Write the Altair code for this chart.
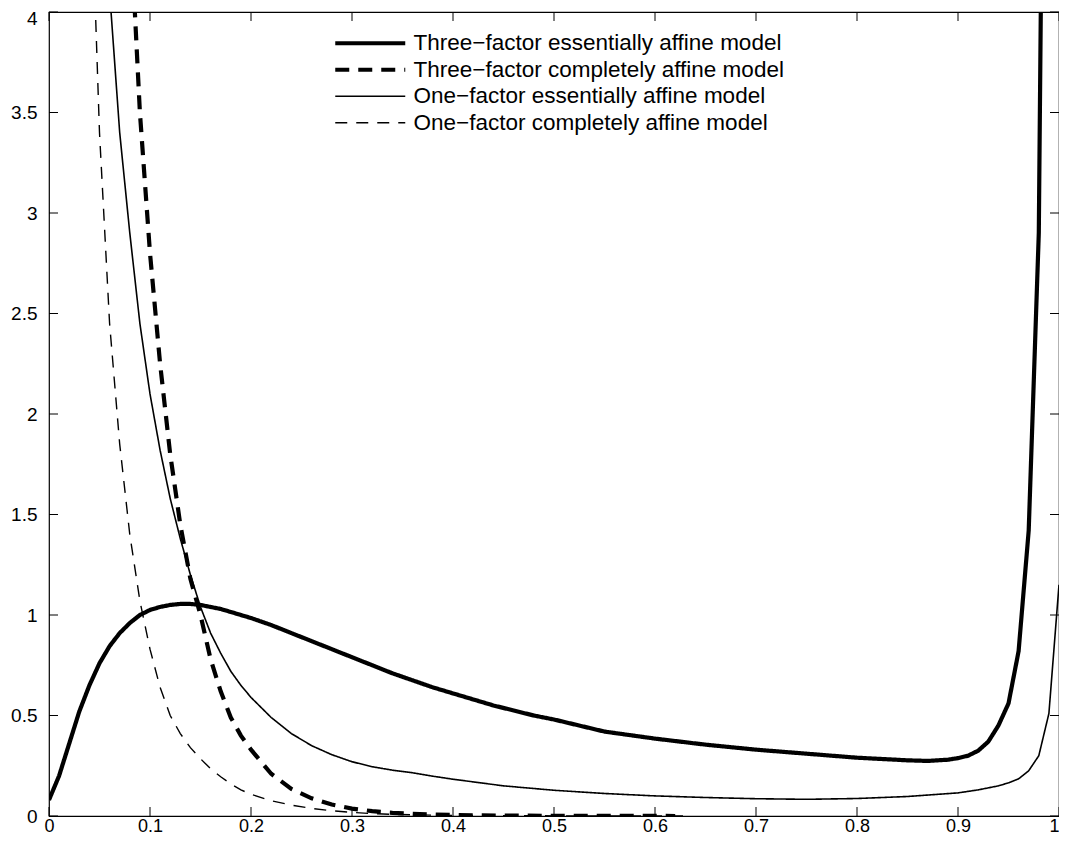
import altair as alt
import pandas as pd

names = [
    "Three\u2212factor essentially affine model",
    "Three\u2212factor completely affine model",
    "One\u2212factor essentially affine model",
    "One\u2212factor completely affine model",
]

# Three-factor essentially affine (thick solid)
x_3ea = [0, .01, .02, .03, .04, .05, .06, .07, .08, .09, .10, .11, .12, .13, .14, .15, .16, .17, .18, .19,
         .20, .22, .24, .26, .28, .30, .32, .34, .36, .38, .40, .42, .44, .46, .48, .50, .55, .60, .65, .70,
         .75, .80, .85, .87, .89, .90, .91, .92, .93, .94, .95, .96, .97, .98, .99]
y_3ea = [.08, .20, .36, .52, .65, .76, .845, .91, .96, 1.0, 1.025, 1.04, 1.05, 1.055, 1.055, 1.05, 1.04, 1.03, 1.015, 1.0,
         .985, .95, .91, .87, .83, .79, .75, .71, .675, .64, .61, .58, .55, .525, .50, .48, .42, .385, .355, .33,
         .31, .29, .277, .274, .28, .288, .30, .325, .37, .45, .56, .82, 1.42, 2.9, 8.5]

# Three-factor completely affine (thick dashed)
x_3ca = [.08, .09, .10, .11, .12, .13, .14, .15, .16, .17, .18, .19, .20, .22, .24, .26, .28, .30, .32, .34,
         .36, .38, .40, .45, .50, .55, .60, .62]
y_3ca = [4.5, 3.5, 2.8, 2.25, 1.8, 1.45, 1.18, 1.0, .78, .62, .49, .40, .33, .21, .135, .088, .057, .037, .024, .016,
         .011, .007, .005, .002, .001, .0005, .0002, .0001]

# One-factor essentially affine (thin solid)
x_1ea = [.05, .06, .07, .08, .09, .10, .11, .12, .13, .14, .15, .16, .17, .18, .19, .20, .22, .24, .26, .28,
         .30, .32, .34, .36, .38, .40, .45, .50, .55, .60, .65, .70, .75, .80, .85, .90, .92, .94, .95, .96,
         .97, .98, .99, 1.0]
y_1ea = [5.2, 4.1, 3.4, 2.9, 2.45, 2.1, 1.82, 1.58, 1.38, 1.2, 1.04, .91, .81, .72, .65, .59, .49, .41, .35, .305,
         .27, .245, .228, .215, .198, .183, .15, .128, .112, .10, .092, .086, .083, .087, .097, .115, .13, .15, .165, .185,
         .225, .30, .51, 1.15]

# One-factor completely affine (thin dashed)
x_1ca = [.04, .05, .06, .07, .08, .09, .10, .11, .12, .13, .14, .15, .16, .17, .18, .19, .20, .22, .24, .26,
         .28, .30, .32, .34, .36, .38, .40, .45, .50, .55, .60, .63]
y_1ca = [4.9, 3.4, 2.45, 1.85, 1.40, 1.07, .83, .64, .50, .41, .34, .285, .235, .195, .16, .13, .108, .076, .054, .038,
         .026, .018, .012, .008, .006, .004, .003, .0015, .0008, .0004, .0002, .0001]

x_ticks = [0, 0.1, 0.2, 0.3, 0.4, 0.5, 0.6, 0.7, 0.8, 0.9, 1]
y_ticks = [0, 0.5, 1, 1.5, 2, 2.5, 3, 3.5, 4]

W, H = 1010, 804
TICK = 9
FONT = "Liberation Sans"

rows = []
for name, xs_, ys_ in zip(names, [x_3ea, x_3ca, x_1ea, x_1ca], [y_3ea, y_3ca, y_1ea, y_1ca]):
    for xv, yv in zip(xs_, ys_):
        rows.append({"series": name, "x": xv, "y": yv})
df = pd.DataFrame(rows)

xs = alt.Scale(domain=[0, 1], nice=False, zero=False)
ys = alt.Scale(domain=[0, 4], nice=False, zero=False)

legend = alt.Legend(
    title=None, orient="none", legendX=310, legendY=20,
    symbolType="M-5,0H5", symbolSize=196, symbolStrokeColor="black",
    labelFont=FONT, labelFontSize=22.5, labelColor="black", labelOffset=32,
    rowPadding=3.5, labelLimit=700,
)

lines = alt.Chart(df).mark_line(clip=True, color="black").encode(
    x=alt.X("x:Q", scale=xs, axis=alt.Axis(
        values=x_ticks, format="~g", title=None,
        labelAlign={"condition": {"test": "datum.value == 1", "value": "right"}, "value": "center"},
    )),
    y=alt.Y("y:Q", scale=ys, axis=alt.Axis(
        values=y_ticks, format="~g", title=None,
        labelOffset={"condition": {"test": "datum.value == 4", "value": 6}, "value": 0},
    )),
    strokeDash=alt.StrokeDash("series:O", sort=names,
                              scale=alt.Scale(type="ordinal", domain=names,
                                              range=[[1, 0], [14, 9], [1, 0], [12, 9]]),
                              legend=legend),
    strokeWidth=alt.StrokeWidth("series:O", sort=names,
                                scale=alt.Scale(type="ordinal", domain=names, range=[4.2, 4.2, 1.6, 1.4]),
                                legend=legend),
    detail="series:N",
    order="x:Q",
)

xt = pd.DataFrame({"v": x_ticks})
yt = pd.DataFrame({"v": y_ticks})
tick_bottom = alt.Chart(xt).mark_rule(color="black", strokeWidth=1).encode(
    x=alt.X("v:Q", scale=xs), y=alt.value(H), y2=alt.value(H - TICK))
tick_top = alt.Chart(xt).mark_rule(color="black", strokeWidth=1).encode(
    x=alt.X("v:Q", scale=xs), y=alt.value(0), y2=alt.value(TICK))
tick_left = alt.Chart(yt).mark_rule(color="black", strokeWidth=1).encode(
    y=alt.Y("v:Q", scale=ys), x=alt.value(0), x2=alt.value(TICK))
tick_right = alt.Chart(yt).mark_rule(color="black", strokeWidth=1).encode(
    y=alt.Y("v:Q", scale=ys), x=alt.value(W), x2=alt.value(W - TICK))

chart = alt.layer(lines, tick_bottom, tick_top, tick_left, tick_right).properties(
    width=W, height=H,
    autosize=alt.AutoSizeParams(type="none"),
    padding={"left": 41, "top": 4, "right": 0, "bottom": 19},
    background="white",
).configure_view(
    stroke="black", strokeWidth=1.2,
).configure_axis(
    domain=False, ticks=False, tickSize=0, grid=False,
    labelFont=FONT, labelColor="black",
).configure_axisX(labelPadding=1, labelFontSize=18).configure_axisY(labelPadding=12, labelFontSize=19)

chart.save("out.html", embed_options={"renderer": "svg", "actions": False})
